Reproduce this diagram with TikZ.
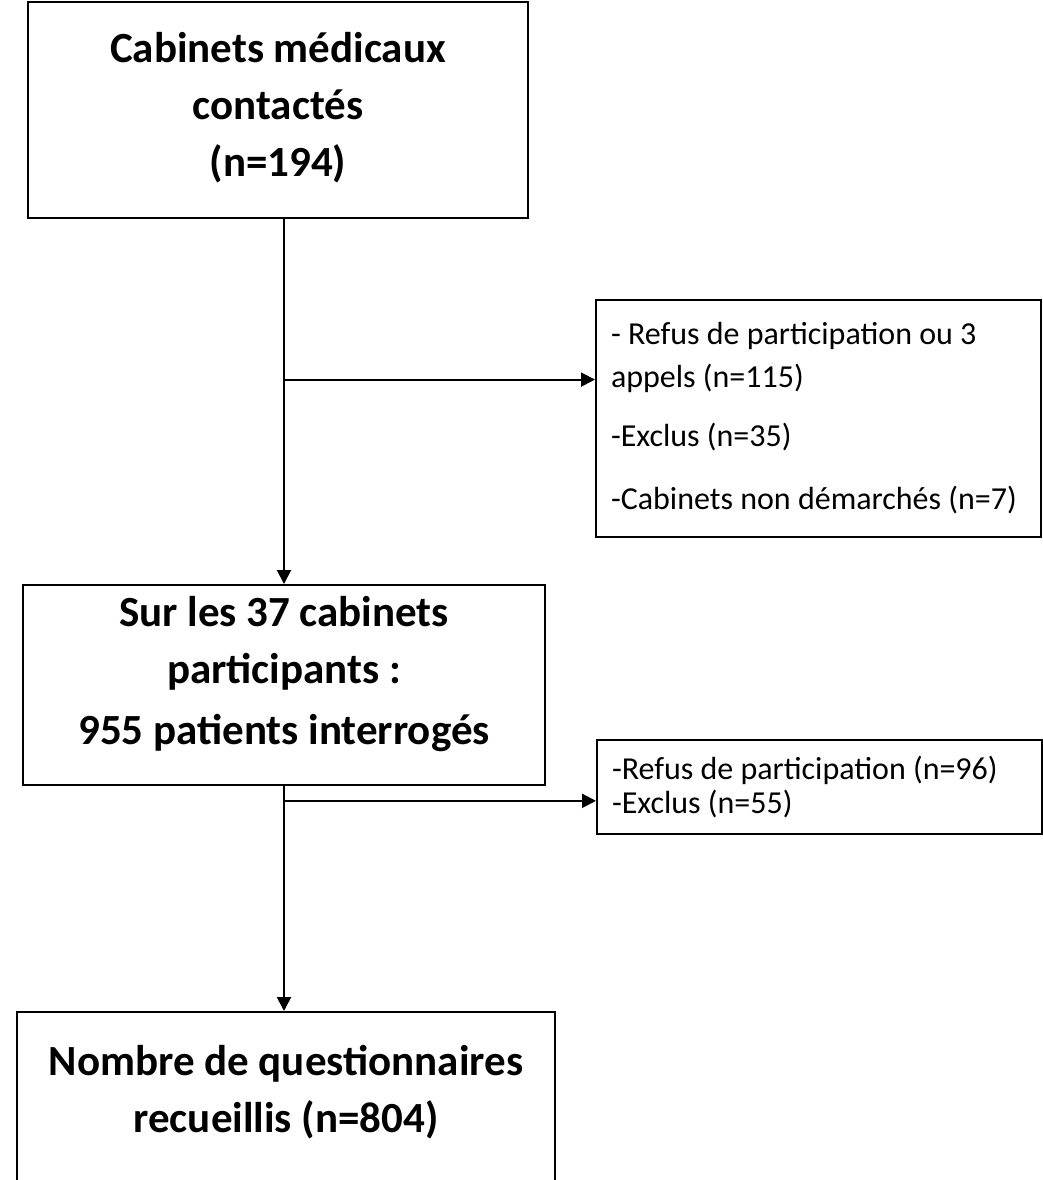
\documentclass[tikz,border=0pt]{standalone}
\usepackage{fontspec}
\setmainfont{Carlito}
\usetikzlibrary{arrows.meta, calc}

\begin{document}
\begin{tikzpicture}[
        x=1pt, y=-1pt,
        box/.style={rectangle, draw=black, line width=2pt, align=center, inner sep=0pt, font=\fontsize{43}{57}\selectfont\bfseries},
        sidebox/.style={rectangle, draw=black, line width=2pt, align=flush left, text width=415pt, inner xsep=15pt, inner ysep=0pt, font=\fontsize{32}{43}\selectfont},
        arrow/.style={line width=2pt, -{Triangle[width=14pt, length=14pt]}}
    ]
    \useasboundingbox (0,0) rectangle (1043,1180);

    % Main flow
    \node[box, minimum width=500pt, minimum height=216pt] (cabinets) at (278,110) {Cabinets médicaux\\contactés\\(n=194)\\[-45pt]\mbox{}};
    \node[box, minimum width=522pt, minimum height=200pt] (participants) at (284,685) {Sur les 37 cabinets\\participants :\\[4pt]955 patients interrogés\\[-27pt]\mbox{}};
    \node[box, minimum width=538pt, minimum height=210pt] (recueillis) at (286,1117) {Nombre de questionnaires\\recueillis (n=804)\\\mbox{}};

    % Exclusions
    \node[sidebox, minimum height=237pt] (exclus1) at (818.5,418.5) {- Refus de participation ou 3\\appels (n=115)\\[16pt]-Exclus (n=35)\\[20pt]-Cabinets non démarchés (n=7)};
    \node[sidebox, minimum height=94pt] (exclus2) at (819.5,787) {-Refus de participation (n=96)\\[-9pt]-Exclus (n=55)};

    % Connections
    \coordinate (split1) at ($(participants.north)!0.56!(participants.north |- cabinets.south)$);
    \coordinate (split2) at ($(participants.south)!0.066!(participants.south |- recueillis.north)$);
    \draw[arrow] (participants.north |- cabinets.south) -- (participants.north);
    \draw[arrow] (split1) -- (split1 -| exclus1.west);
    \draw[arrow] (participants.south) -- (participants.south |- recueillis.north);
    \draw[arrow] (split2) -- (split2 -| exclus2.west);

\end{tikzpicture}
\end{document}
